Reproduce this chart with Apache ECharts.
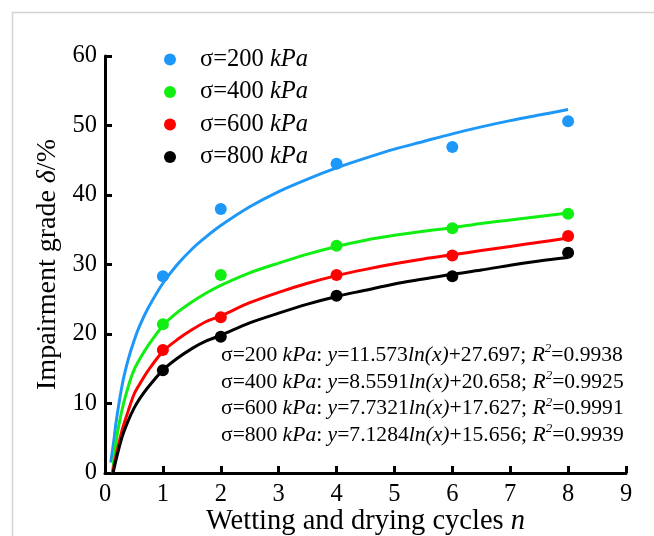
<!DOCTYPE html>
<html>
<head>
<meta charset="utf-8">
<script src="https://cdn.jsdelivr.net/npm/echarts@6/dist/echarts.min.js"></script>
<style>
html,body{margin:0;padding:0;background:#fff;}
#chart{width:654px;height:536px;}
</style>
</head>
<body>
<div id="chart"></div>
<script>
// ---- data ----
const seriesNames = ['σ=200 kPa', 'σ=400 kPa', 'σ=600 kPa', 'σ=800 kPa'];
const cycles = [1, 2, 4, 6, 8];
const s200 = [28.3, 38.0, 44.5, 46.9, 50.6];
const s400 = [21.4, 28.5, 32.7, 35.2, 37.3];
const s600 = [17.7, 22.4, 28.5, 31.3, 34.1];
const s800 = [14.8, 19.6, 25.5, 28.3, 31.7];

// trend lines as drawn in the reference
const fit200X = [0.1, 0.15, 0.2, 0.3, 0.4, 0.5, 0.6, 0.75, 1, 1.25, 1.5, 1.75, 2, 2.5, 3, 3.5, 4, 4.5, 5, 5.5, 6, 6.5, 7, 7.5, 8];
const fit200Y = [1.5, 4.5, 7.8, 12.8, 16.3, 19.0, 21.2, 23.8, 27.3, 30.0, 32.2, 34.0, 35.6, 38.3, 40.5, 42.3, 43.9, 45.3, 46.6, 47.7, 48.8, 49.8, 50.7, 51.5, 52.3];
const fit400X = [0.13, 0.2, 0.3, 0.4, 0.5, 0.6, 0.75, 1, 1.25, 1.5, 1.75, 2, 2.5, 3, 3.5, 4, 4.5, 5, 5.5, 6, 6.5, 7, 7.5, 8];
const fit400Y = [0, 5.0, 9.3, 12.4, 14.8, 16.4, 18.4, 21.2, 23.1, 24.6, 25.9, 27.0, 28.8, 30.2, 31.5, 32.6, 33.5, 34.2, 34.8, 35.3, 35.9, 36.4, 36.9, 37.4];
const fit600X = [0.13, 0.2, 0.3, 0.4, 0.5, 0.6, 0.75, 1, 1.25, 1.5, 1.75, 2, 2.5, 3, 3.5, 4, 4.5, 5, 5.5, 6, 6.5, 7, 7.5, 8];
const fit600Y = [0, 2.8, 6.3, 8.9, 11.3, 12.8, 14.8, 17.5, 19.2, 20.6, 21.8, 22.6, 24.5, 26.0, 27.3, 28.4, 29.3, 30.1, 30.8, 31.4, 32.0, 32.6, 33.2, 33.8];
const fit800X = [0.14, 0.2, 0.3, 0.4, 0.5, 0.6, 0.75, 1, 1.25, 1.5, 1.75, 2, 2.5, 3, 3.5, 4, 4.5, 5, 5.5, 6, 6.5, 7, 7.5, 8];
const fit800Y = [0, 2.2, 5.3, 7.5, 9.3, 10.7, 12.4, 14.8, 16.5, 17.9, 19.0, 19.8, 21.6, 23.0, 24.3, 25.4, 26.3, 27.2, 27.9, 28.6, 29.2, 29.9, 30.5, 31.0];

// equation labels printed in the chart
const fitAText = ['11.573', '8.5591', '7.7321', '7.1284'];
const fitBText = ['27.697', '20.658', '17.627', '15.656'];
const r2Text = ['0.9938', '0.9925', '0.9991', '0.9939'];
const xTicks = [0, 1, 2, 3, 4, 5, 6, 7, 8, 9];
const yTicks = [0, 10, 20, 30, 40, 50, 60];
const colors = ['#1E98F8', '#11EE11', '#FF0000', '#000000'];

const FONT = 'Liberation Serif';
const values = [s200, s400, s600, s800];
const fitX = [fit200X, fit400X, fit600X, fit800X];
const fitY = [fit200Y, fit400Y, fit600Y, fit800Y];

const series = [];
for (let k = 0; k < 4; k++) {
  series.push({
    name: seriesNames[k] + ' fit',
    type: 'line',
    data: fitX[k].map((x, i) => [x, fitY[k][i]]),
    showSymbol: false,
    symbol: 'none',
    smooth: 0.3,
    lineStyle: { color: colors[k], width: 3 },
    z: 2 + k,
    silent: true
  });
}
for (let k = 0; k < 4; k++) {
  series.push({
    name: seriesNames[k],
    type: 'scatter',
    data: cycles.map((c, i) => [c, values[k][i]]),
    symbol: 'circle',
    symbolSize: 12,
    itemStyle: { color: colors[k], opacity: 1 },
    z: 10 + k
  });
}

const EQ = 21.6;
const rich = {
  n: { fontFamily: FONT, fontSize: EQ, color: '#000', lineHeight: 26 },
  i: { fontFamily: FONT, fontSize: EQ, color: '#000', fontStyle: 'italic', lineHeight: 26 },
  s: { fontFamily: FONT, fontSize: 13, color: '#000', fontStyle: 'italic', verticalAlign: 'top', lineHeight: 16 }
};

const eqTop = [342.5, 369.2, 395.8, 422.5];
const graphics = [{
  type: 'rect',
  left: 10, top: 10,
  shape: { x: 0.5, y: 0.5, width: 700, height: 600 },
  style: { fill: 'none', stroke: '#d4d4d4', lineWidth: 1.5 },
  silent: true, z: -10
}];
for (let k = 0; k < 4; k++) {
  const p = seriesNames[k].split(' ');
  graphics.push({
    type: 'text',
    left: 221,
    top: eqTop[k],
    style: {
      text: '{n|' + p[0] + ' }{i|' + p[1] + '}{n|: }{i|y}{n|=' + fitAText[k] + '}{i|ln(x)}{n|+' + fitBText[k] + '; }{i|R}{s|2}{n|=' + r2Text[k] + '}',
      rich: rich
    },
    z: 100
  });
}

const chart = echarts.init(document.getElementById('chart'), null, { renderer: 'canvas' });
chart.setOption({
  animation: false,
  backgroundColor: '#ffffff',
  grid: { left: 105, right: 28, top: 56, bottom: 63, containLabel: false, outerBoundsMode: 'none' },
  legend: {
    data: seriesNames,
    orient: 'vertical',
    left: 159,
    top: 42,
    itemWidth: 50,
    itemHeight: 12,
    itemGap: 7.5,
    icon: 'circle',
    formatter: function (name) {
      const p = name.split(' ');
      return '{n|' + p[0] + ' }{i|' + p[1] + '}';
    },
    textStyle: {
      rich: {
        n: { fontFamily: FONT, fontSize: 24.5, color: '#000', lineHeight: 24 },
        i: { fontFamily: FONT, fontSize: 24.5, color: '#000', fontStyle: 'italic', lineHeight: 24 }
      }
    }
  },
  xAxis: {
    type: 'value',
    min: xTicks[0], max: xTicks[xTicks.length - 1], interval: 1,
    name: 'Wetting and drying cycles {i|n}',
    nameLocation: 'middle',
    nameGap: 34,
    nameMoveOverlap: false,
    nameTextStyle: {
      fontFamily: FONT, fontSize: 28.5, color: '#000',
      rich: { i: { fontFamily: FONT, fontSize: 28.5, color: '#000', fontStyle: 'italic' } }
    },
    axisLine: { show: true, onZero: false, lineStyle: { color: '#000', width: 3 } },
    axisTick: { show: true, inside: true, length: 7, lineStyle: { color: '#000', width: 3 } },
    axisLabel: { fontFamily: FONT, fontSize: 24.5, color: '#000', margin: 9 },
    splitLine: { show: false }
  },
  yAxis: {
    type: 'value',
    min: yTicks[0], max: yTicks[yTicks.length - 1], interval: 10,
    name: 'Impairment grade {i|δ}/%',
    nameLocation: 'middle',
    nameRotate: 90,
    nameGap: 43,
    nameMoveOverlap: false,
    nameTextStyle: {
      fontFamily: FONT, fontSize: 28, color: '#000',
      rich: { i: { fontFamily: FONT, fontSize: 28, color: '#000', fontStyle: 'italic' } }
    },
    axisLine: { show: true, onZero: false, lineStyle: { color: '#000', width: 3 } },
    axisTick: { show: true, inside: true, length: 7, lineStyle: { color: '#000', width: 3 } },
    axisLabel: { fontFamily: FONT, fontSize: 24.5, color: '#000', margin: 8 },
    splitLine: { show: false }
  },
  graphic: graphics,
  series: series
});
</script>
</body>
</html>
